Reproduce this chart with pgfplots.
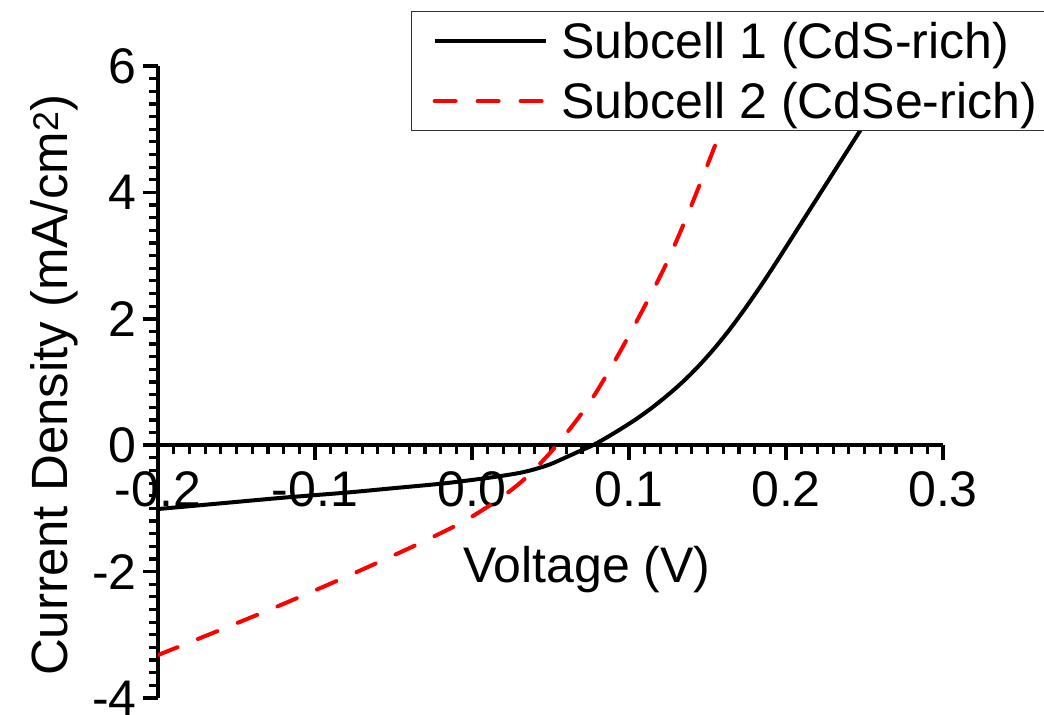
\documentclass[border=0pt]{standalone}
\usepackage{fontspec}
\setmainfont{Liberation Sans}
\usepackage{pgfplots}
\pgfplotsset{compat=1.18}
\newcommand\bigf{\fontsize{50bp}{60bp}\selectfont}
\begin{document}
\begin{tikzpicture}
\useasboundingbox (0,0) rectangle (1044bp,715bp);
\begin{axis}[
  at={(158bp,17bp)}, anchor=south west,
  scale only axis, width=785bp, height=632bp,
  xmin=-0.2, xmax=0.3, ymin=-4, ymax=6,
  axis x line=middle, axis y line=left,
  axis line style={line width=3.5bp, -},
  every inner x axis line/.append style={-},
  every outer y axis line/.append style={-},
  xtick={-0.2,-0.1,0,0.1,0.2,0.3},
  xticklabels={-0.2,-0.1,0.0,0.1,0.2,0.3},
  ytick={-4,-2,0,2,4,6},
  yticklabels={-4,-2,0,2,4,6},
  minor x tick num=9, minor y tick num=9,
  tick align=outside,
  major tick length=15bp, minor tick length=9bp,
  tick style={line width=3.5bp, black},
  major tick style={line width=3.5bp, black},
  minor tick style={line width=3.2bp, black},
  hide obscured x ticks=false, hide obscured y ticks=false,
  xticklabel style={font=\bigf, inner sep=0pt, anchor=north, yshift=-11bp},
  yticklabel style={font=\bigf, inner sep=0pt, anchor=east, xshift=-6bp},
  xlabel={Voltage (V)},
  ylabel={Current Density (mA/cm\textsuperscript{2})},
  every axis x label/.style={at={(rel axis cs:0.5465,0.182)}, anchor=base, font=\bigf, inner sep=0pt},
  every axis y label/.style={at={(rel axis cs:-0.1159,0.495)}, rotate=90, anchor=base, font=\fontsize{51bp}{60bp}\selectfont, inner sep=0pt},
  legend style={at={(rel axis cs:0.3223,1.087)}, anchor=north west, draw=black!80, line width=1.2bp, fill=white, font=\bigf, inner xsep=21bp, inner ysep=11bp, row sep=23bp, column sep=14bp, nodes={inner sep=0pt, text height=36bp, text depth=1bp}},
  legend cell align=left,
  legend image code/.code={\draw[#1] (0bp,0bp) -- (111bp,0bp);},
]
\addplot[black, line width=4bp, smooth] coordinates {
(-0.20,-1.01) (-0.16,-0.92) (-0.12,-0.83) (-0.08,-0.75) (-0.05,-0.68) (-0.02,-0.61)
(0.00,-0.55) (0.015,-0.50) (0.03,-0.44) (0.04,-0.38) (0.05,-0.30) (0.06,-0.19)
(0.068,-0.10) (0.077,0.0) (0.085,0.11) (0.095,0.26) (0.105,0.42) (0.115,0.60)
(0.125,0.80) (0.135,1.02) (0.145,1.27) (0.155,1.55) (0.165,1.86) (0.175,2.20)
(0.185,2.56) (0.195,2.94) (0.205,3.33) (0.215,3.72) (0.225,4.11) (0.235,4.50)
(0.245,4.89) (0.255,5.28) (0.265,5.67) (0.275,6.06)
};
\addlegendentry{Subcell 1 (CdS-rich)}
\addplot[red, line width=4bp, dash pattern=on 21bp off 22bp, line cap=round, smooth] coordinates {
(-0.20,-3.32) (-0.16,-2.92) (-0.12,-2.51) (-0.08,-2.08) (-0.04,-1.63) (-0.01,-1.27)
(0.00,-1.13) (0.018,-0.84) (0.035,-0.50) (0.054,0.0) (0.075,0.68) (0.092,1.38)
(0.107,2.06) (0.122,2.78) (0.134,3.45) (0.145,4.12) (0.156,4.82) (0.165,5.42) (0.172,5.9) (0.18,6.45)
};
\addlegendentry{Subcell 2 (CdSe-rich)}
\end{axis}
\end{tikzpicture}
\end{document}
